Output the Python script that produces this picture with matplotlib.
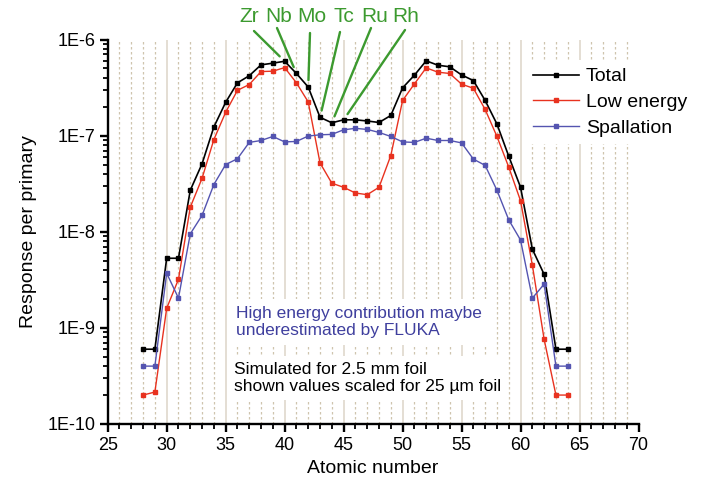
import numpy as np
import matplotlib
matplotlib.use("Agg")
import matplotlib.pyplot as plt
from matplotlib.ticker import FixedLocator, LogLocator, FuncFormatter, NullFormatter

plt.rcParams['font.family'] = ['Liberation Sans', 'DejaVu Sans']

# Atomic number of each simulated isotope chain
atomic_number = list(range(28, 65))

total = [6.0e-10, 6.0e-10, 5.3e-9, 5.3e-9, 2.7e-8, 5.1e-8, 1.23e-7, 2.22e-7,
         3.54e-7, 4.2e-7, 5.45e-7, 5.67e-7, 5.94e-7, 4.43e-7, 3.2e-7, 1.55e-7,
         1.36e-7, 1.46e-7, 1.46e-7, 1.42e-7, 1.37e-7, 1.62e-7, 3.14e-7, 4.25e-7,
         6.0e-7, 5.4e-7, 5.2e-7, 4.28e-7, 3.74e-7, 2.32e-7, 1.32e-7, 6.1e-8,
         2.9e-8, 6.6e-9, 3.6e-9, 6.0e-10, 6.0e-10]

low_energy = [2.0e-10, 2.15e-10, 1.6e-9, 3.2e-9, 1.8e-8, 3.6e-8, 9.1e-8, 1.75e-7,
              2.96e-7, 3.4e-7, 4.64e-7, 4.68e-7, 5.1e-7, 3.54e-7, 2.24e-7, 5.2e-8,
              3.2e-8, 2.9e-8, 2.53e-8, 2.43e-8, 2.9e-8, 6.2e-8, 2.32e-7, 3.45e-7,
              5.07e-7, 4.57e-7, 4.43e-7, 3.43e-7, 3.11e-7, 1.87e-7, 9.8e-8, 4.7e-8,
              2.1e-8, 4.5e-9, 7.6e-10, 2.0e-10, 2.0e-10]

spallation = [4.0e-10, 4.0e-10, 3.7e-9, 2.04e-9, 9.5e-9, 1.48e-8, 3.1e-8, 5.0e-8,
              5.75e-8, 8.5e-8, 8.9e-8, 9.8e-8, 8.6e-8, 8.7e-8, 9.9e-8, 1.02e-7,
              1.03e-7, 1.15e-7, 1.19e-7, 1.16e-7, 1.08e-7, 9.8e-8, 8.6e-8, 8.5e-8,
              9.4e-8, 8.9e-8, 8.9e-8, 8.4e-8, 5.7e-8, 4.9e-8, 2.7e-8, 1.33e-8,
              8.2e-9, 2.04e-9, 2.85e-9, 4.0e-10, 4.0e-10]

# Elements marked above the dip of the low-energy curve
elements = ["Zr", "Nb", "Mo", "Tc", "Ru", "Rh"]
element_z = [40, 41, 42, 43, 44, 45]

x_ticks = [25, 30, 35, 40, 45, 50, 55, 60, 65, 70]
y_ticks = [1e-10, 1e-9, 1e-8, 1e-7, 1e-6]
y_tick_labels = ["1E-10", "1E-9", "1E-8", "1E-7", "1E-6"]

W, H = 718, 487
fig = plt.figure(figsize=(W / 100, H / 100), dpi=100)
ax = fig.add_axes([107.7 / W, 1 - 424 / H, (638.5 - 107.7) / W, (424 - 39.5) / H])


def fig_px(x, y):
    """Figure fraction from pixel position measured from the top-left corner."""
    return x / W, 1 - y / H


# vertical guide lines at every atomic number
for z in range(26, 70):
    if z % 5 == 0:
        ax.axvline(z, color="#dcd5c8", lw=1.1, zorder=0.5)
    else:
        ax.axvline(z, color="#cfc4ae", lw=0.9, ls=(0, (2.0, 2.0)), zorder=0.5)

ax.plot(atomic_number, total, color="black", lw=1.2, marker="s", ms=3.3,
        label="Total", zorder=3)
ax.plot(atomic_number, low_energy, color="#e8321f", lw=1.0, marker="s", ms=3.0,
        label="Low energy", zorder=3)
ax.plot(atomic_number, spallation, color="#5454b0", lw=1.0, marker="s", ms=2.8,
        label="Spallation", zorder=3)

ax.set_yscale("log")
ax.set_xlim(25, 70)
ax.set_ylim(1e-10, 1e-6)

ax.xaxis.set_major_locator(FixedLocator(x_ticks))
ax.xaxis.set_minor_locator(FixedLocator(range(25, 71)))
ax.yaxis.set_major_locator(FixedLocator(y_ticks))
ax.yaxis.set_major_formatter(FuncFormatter(
    lambda v, pos: y_tick_labels[y_ticks.index(min(y_ticks, key=lambda t: abs(np.log10(t) - np.log10(v))))]))
ax.yaxis.set_minor_locator(LogLocator(base=10, subs=np.arange(2, 10), numticks=20))
ax.yaxis.set_minor_formatter(NullFormatter())

for side in ("top", "right"):
    ax.spines[side].set_visible(False)
for side in ("left", "bottom"):
    ax.spines[side].set_linewidth(1.7)

ax.tick_params(axis="both", which="major", direction="out", length=6, width=1.7,
               labelsize=13, pad=3)
ax.tick_params(axis="both", which="minor", direction="out", length=3.5, width=1.3)

ax.set_xlabel("Atomic number", fontsize=14, labelpad=5)
ax.set_ylabel("Response per primary", fontsize=14, labelpad=7)

leg = ax.legend(loc="upper left", bbox_to_anchor=fig_px(525, 60),
                bbox_transform=fig.transFigure, fontsize=14, frameon=True,
                fancybox=False, framealpha=1, edgecolor="none", facecolor="white",
                handlelength=2.37, handletextpad=0.36, labelspacing=0.41,
                borderpad=0.4, borderaxespad=0)
leg.set_zorder(4)

# element labels with leader lines pointing at the total curve
label_pos = [(249.5, 17), (278.5, 17), (311.5, 17), (344, 17), (375, 17), (405.5, 17)]
line_start = [(254, 31), (277, 28), (310, 33), (340, 32), (371, 28), (405, 30)]
green = "#3c9a2f"
for name, z, lp, ls in zip(elements, element_z, label_pos, line_start):
    fig.text(*fig_px(*lp), name, color=green, fontsize=15, ha="center", va="center")
    ax.annotate("", xy=(z, total[atomic_number.index(z)]), xycoords="data",
                xytext=fig_px(*ls), textcoords="figure fraction",
                arrowprops=dict(arrowstyle="-", color=green, lw=1.7,
                                shrinkA=0, shrinkB=5), zorder=5)

ax.text(*fig_px(236, 306), "High energy contribution maybe\nunderestimated by FLUKA",
        transform=fig.transFigure, color="#3f3f9e", fontsize=12.5, ha="left", va="top",
        linespacing=1.15, zorder=4,
        bbox=dict(facecolor="white", edgecolor="none", pad=5))
ax.text(*fig_px(234, 362), "Simulated for 2.5 mm foil\nshown values scaled for 25 µm foil",
        transform=fig.transFigure, color="black", fontsize=12.5, ha="left", va="top",
        linespacing=1.15, zorder=4,
        bbox=dict(facecolor="white", edgecolor="none", pad=4.5))

fig.savefig("out.png", dpi=100)
